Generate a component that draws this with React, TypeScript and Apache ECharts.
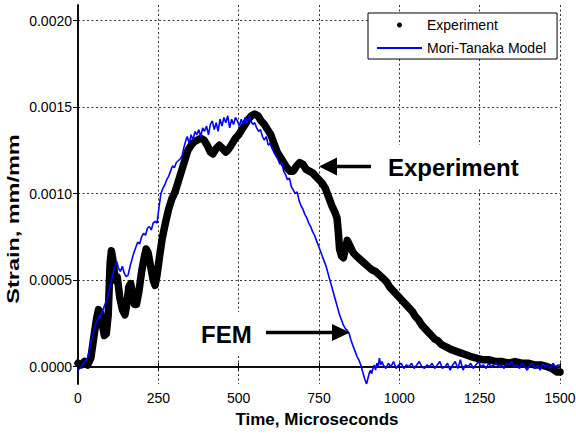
import React, { useEffect, useRef } from "react";
import * as echarts from "echarts";

const xTicks = [0, 250, 500, 750, 1000, 1250, 1500];
const yTicks = [0, 0.0005, 0.001, 0.0015, 0.002];

const expTime = [
  0, 10, 20, 30, 40, 50, 58, 64, 70, 76, 82, 88, 94, 100, 104, 110, 116, 122, 130, 138,
  146, 152, 158, 164, 170, 176, 182, 190, 198, 206, 212, 218, 226, 234, 240, 246, 254, 262, 272, 282,
  292, 302, 312, 322, 332, 342, 352, 362, 372, 382, 392, 402, 412, 420, 430, 440, 450, 460, 470, 480,
  490, 500, 510, 520, 530, 540, 550, 560, 570, 580, 590, 600, 610, 620, 630, 640, 650, 660, 670, 680,
  690, 700, 710, 720, 730, 740, 750, 760, 770, 780, 790, 800, 806, 810, 814, 820, 826, 832, 838, 846,
  856, 866, 878, 890, 902, 914, 926, 938, 950, 960, 970, 980, 990, 1000, 1010, 1020, 1030, 1040, 1050, 1060,
  1070, 1080, 1090, 1100, 1110, 1120, 1130, 1140, 1150, 1160, 1175, 1190, 1205, 1220, 1240, 1260, 1280, 1300, 1320, 1340,
  1360, 1380, 1400, 1420, 1440, 1460, 1475, 1490, 1500,
];
const expStrain = [
  0.00002, 0.00001, 0.00003, 0.00001, 0.00005, 0.00018, 0.00028, 0.00033, 0.00031, 0.00024, 0.00018, 0.00019, 0.0003, 0.0006, 0.00067, 0.0006, 0.0005, 0.00052, 0.0004, 0.00033,
  0.0003, 0.00036, 0.00046, 0.00048, 0.00042, 0.00036, 0.00036, 0.00044, 0.00055, 0.00063, 0.00068, 0.00066, 0.00058, 0.0005, 0.00047, 0.00053, 0.00064, 0.00074, 0.00083, 0.00091,
  0.00097, 0.00101, 0.00107, 0.00113, 0.00119, 0.00125, 0.00128, 0.0013, 0.00131, 0.00132, 0.00131, 0.00128, 0.00124, 0.00123, 0.00126, 0.00128, 0.00126, 0.00124, 0.00126, 0.00129,
  0.00132, 0.00134, 0.00137, 0.0014, 0.00143, 0.00145, 0.00146, 0.00145, 0.00142, 0.0014, 0.00137, 0.00134, 0.00129, 0.00124, 0.00121, 0.00118, 0.00115, 0.00113, 0.00113, 0.00116,
  0.00118, 0.00117, 0.00114, 0.00113, 0.00112, 0.0011, 0.00108, 0.00106, 0.00103, 0.00098, 0.00093, 0.00089, 0.00086, 0.00078, 0.00068, 0.00064, 0.00063, 0.00068, 0.00073, 0.0007,
  0.00066, 0.00064, 0.00062, 0.0006, 0.00058, 0.00056, 0.00055, 0.00053, 0.00051, 0.00049, 0.00046, 0.00044, 0.00042, 0.0004, 0.00038, 0.00036, 0.00034, 0.00032, 0.00029, 0.00027,
  0.00024, 0.00022, 0.0002, 0.00018, 0.00016, 0.00015, 0.00013, 0.00012, 0.00011, 0.0001, 0.00009, 0.00008, 0.00007, 0.00006, 0.00005, 0.00004, 0.00004, 0.00003, 0.00003, 0.00002,
  0.00003, 0.00002, 0.00002, 0.00001, 0.00001, 0.0, -0.00001, -0.00003, -0.00003,
];

const mtTime = [
  0, 10, 20, 28, 34, 40, 48, 56, 62, 66, 70, 74, 80, 86, 92, 98, 104, 110, 116, 120,
  126, 132, 138, 144, 150, 156, 162, 168, 174, 180, 186, 192, 198, 204, 210, 216, 222, 228, 234, 240,
  246, 252, 258, 264, 270, 276, 282, 288, 294, 300, 306, 312, 318, 324, 330, 336, 340, 346, 352, 358,
  364, 370, 376, 382, 388, 394, 400, 406, 412, 418, 424, 430, 436, 442, 448, 454, 460, 466, 472, 478,
  484, 490, 496, 502, 508, 514, 520, 526, 532, 538, 544, 550, 556, 562, 568, 574, 580, 586, 592, 598,
  604, 610, 616, 622, 628, 634, 640, 646, 652, 658, 664, 670, 676, 682, 688, 694, 700, 706, 712, 718,
  724, 730, 736, 742, 748, 754, 760, 766, 772, 778, 784, 790, 796, 802, 808, 814, 820, 826, 832, 838,
  844, 850, 856, 862, 868, 874, 880, 886, 892, 898, 902, 906, 910, 914, 918, 922, 926, 930, 934, 938,
  942, 946, 950, 958, 966, 974, 982, 990, 998, 1006, 1014, 1022, 1030, 1038, 1046, 1054, 1062, 1070, 1078, 1086,
  1094, 1102, 1110, 1118, 1126, 1134, 1142, 1150, 1158, 1166, 1174, 1182, 1190, 1198, 1206, 1214, 1222, 1230, 1238, 1246,
  1254, 1262, 1270, 1278, 1286, 1294, 1302, 1310, 1318, 1326, 1334, 1342, 1350, 1358, 1366, 1374, 1382, 1390, 1398, 1406,
  1414, 1422, 1430, 1438, 1446, 1454, 1462, 1470, 1478, 1486, 1494, 1500,
];
const mtStrain = [
  -0.00002, 0.0, 0.00003, 0.00004, 0.00008, 0.00014, 0.0002, 0.00025, 0.00028, 0.0003, 0.00028, 0.00031, 0.00034, 0.00037, 0.0004, 0.00045, 0.0005, 0.00055, 0.00058, 0.00061,
  0.00057, 0.00055, 0.00058, 0.00054, 0.00052, 0.00053, 0.00058, 0.00062, 0.00066, 0.00069, 0.00072, 0.00071, 0.00075, 0.00077, 0.00076, 0.0008, 0.00081, 0.00079, 0.00083, 0.00084,
  0.00083, 0.00092, 0.001, 0.00103, 0.00105, 0.00108, 0.0011, 0.00113, 0.00116, 0.00115, 0.00118, 0.00119, 0.0012, 0.00122, 0.00127, 0.00131, 0.00133, 0.00129, 0.00134, 0.00131,
  0.00136, 0.00134, 0.00137, 0.00133, 0.00138, 0.00136, 0.00139, 0.00134, 0.0014, 0.00142, 0.00137, 0.00141, 0.00136, 0.00143, 0.00139, 0.00144, 0.00141, 0.00145, 0.00138, 0.00143,
  0.0014, 0.00144, 0.00142, 0.00139, 0.00143, 0.0014, 0.00144, 0.00141, 0.00145, 0.00142, 0.0014, 0.00141, 0.00138, 0.00136, 0.00137, 0.00133, 0.00131, 0.00133, 0.00128, 0.00129,
  0.00126, 0.00124, 0.00122, 0.0012, 0.00117, 0.00118, 0.00113, 0.00111, 0.00108, 0.00109, 0.00104, 0.00102, 0.001, 0.00101, 0.00096, 0.00093, 0.00091, 0.00088, 0.00086, 0.00083,
  0.00081, 0.00078, 0.00076, 0.00073, 0.0007, 0.00067, 0.00064, 0.00061, 0.00058, 0.00054, 0.0005, 0.00046, 0.00042, 0.00038, 0.00034, 0.0003, 0.00027, 0.00024, 0.00022, 0.00021,
  0.00019, 0.00015, 0.00012, 0.00009, 0.00006, 0.00004, 0.00001, -0.00003, -0.00007, -0.0001, -0.00007, -0.00004, -0.00002, -0.00004, -0.00001, 0.00001, -0.00002, 0.00002, 0.0, 0.00005,
  0.00001, 0.00003, 0.00001, -0.00001, 0.00002, 0.0, 0.00003, -0.00001, 0.00001, 0.00002, -0.00001, 0.00001, 0.0, 0.00002, -0.00001, 0.00001, 0.00003, 0.0, -0.00001, 0.00001,
  0.0, 0.00002, -0.00001, 0.00001, 0.00003, -0.00001, 0.0, 0.00002, -0.00002, 0.00001, 0.00003, -0.00001, 0.00004, -0.00002, 0.00001, 0.0, 0.00002, -0.00001, 0.00001, 0.00003,
  0.0, 0.00001, -0.00001, 0.00002, 0.0, 0.00001, 0.00002, 0.0, 0.00001, -0.00001, 0.00002, 0.00001, 0.00003, 0.0, 0.00001, -0.00001, 0.00002, 0.0, -0.00002, 0.00001,
  0.00002, -0.00001, 0.00001, -0.00002, 0.00002, 0.0, 0.00001, -0.00001, 0.00002, 0.0, 0.00001, 0.00001,
];

const FONT = "'Liberation Sans', Arial, Helvetica, sans-serif";

export default function App() {
  const ref = useRef<HTMLDivElement>(null);

  useEffect(() => {
    document.body.style.margin = "0";
    if (!ref.current) return;
    const chart = echarts.init(ref.current, undefined, { renderer: "svg" });

    const expData = expTime.map((t, i) => [t, expStrain[i]]);
    const mtData = mtTime.map((t, i) => [t, mtStrain[i]]);

    const axisLine = { show: true, lineStyle: { color: "#000", width: 1.5 } };
    const gridLine = { show: true, lineStyle: { color: "#333", width: 1, type: [2, 2.5] } };

    chart.setOption({
      animation: false,
      backgroundColor: "#fff",
      textStyle: { fontFamily: FONT },
      grid: { left: 78, right: 16, top: 5, bottom: 50, outerBoundsMode: "none", containLabel: false },
      legend: {
        orient: "vertical",
        left: 368,
        top: 13,
        backgroundColor: "#fff",
        borderColor: "#000",
        borderWidth: 1,
        borderRadius: 0,
        padding: [5, 11, 4, 9],
        itemGap: 9,
        itemWidth: 45,
        itemHeight: 5,
        selectedMode: false,
        textStyle: { fontSize: 14, fontFamily: FONT, color: "#000" },
        data: [
          { name: "Experiment", icon: "circle" },
          { name: "Mori-Tanaka Model", icon: "path://M0 0H45V2H0Z" },
        ],
      },
      xAxis: [
        {
          type: "value",
          min: 0,
          max: 1500,
          interval: 250,
          axisLine,
          axisTick: { show: true, inside: true, length: 4, lineStyle: { color: "#000" } },
          axisLabel: {
            color: "#000",
            fontSize: 14,
            fontFamily: FONT,
            margin: 7,
            customValues: xTicks,
            formatter: (v: number) => String(v),
          },
          splitLine: gridLine,
        },
        {
          type: "value",
          position: "top",
          min: 0,
          max: 1500,
          interval: 250,
          axisLine,
          axisTick: { show: true, inside: true, length: 4, lineStyle: { color: "#000" } },
          axisLabel: { show: false },
          splitLine: { show: false },
        },
      ],
      yAxis: [
        {
          type: "value",
          min: -0.0001,
          max: 0.00209,
          axisLine,
          axisTick: { show: true, inside: false, length: 5, customValues: yTicks, lineStyle: { color: "#000" } },
          axisLabel: {
            color: "#000",
            fontSize: 14,
            fontFamily: FONT,
            margin: 6,
            customValues: yTicks,
            formatter: (v: number) => v.toFixed(4),
          },
          splitLine: gridLine,
        },
        {
          type: "value",
          position: "right",
          min: -0.0001,
          max: 0.00209,
          axisLine,
          axisTick: { show: true, inside: true, length: 4, customValues: yTicks, lineStyle: { color: "#000" } },
          axisLabel: { show: false, customValues: yTicks },
          splitLine: { show: false },
        },
      ],
      series: [
        {
          name: "Experiment",
          type: "line",
          xAxisIndex: 0,
          yAxisIndex: 0,
          data: expData,
          showSymbol: false,
          symbol: "circle",
          silent: true,
          itemStyle: { color: "#000" },
          lineStyle: { color: "#000", width: 7.5, cap: "round", join: "round" },
          emphasis: { disabled: true },
          z: 2,
        },
        {
          name: "Mori-Tanaka Model",
          type: "line",
          xAxisIndex: 0,
          yAxisIndex: 0,
          data: mtData,
          showSymbol: false,
          symbol: "none",
          silent: true,
          itemStyle: { color: "#0000ff" },
          lineStyle: { color: "#0000ff", width: 1.6 },
          emphasis: { disabled: true },
          z: 3,
        },
      ],
      graphic: [
        {
          type: "text",
          x: 12.5,
          y: 219,
          rotation: Math.PI / 2,
          scaleX: 1.38,
          style: {
            text: "Strain, mm/mm",
            font: `bold 17px ${FONT}`,
            fill: "#000",
            align: "center",
            verticalAlign: "middle",
          },
        },
        {
          type: "text",
          x: 317,
          y: 419,
          style: {
            text: "Time, Microseconds",
            font: `bold 17px ${FONT}`,
            fill: "#000",
            align: "center",
            verticalAlign: "middle",
          },
        },
        {
          type: "text",
          x: 384,
          y: 167,
          z: 10,
          style: {
            text: "Experiment",
            font: `bold 24px ${FONT}`,
            fill: "#000",
            align: "left",
            verticalAlign: "middle",
            backgroundColor: "#fff",
            padding: [10, 4],
          },
        },
        {
          type: "line",
          z: 10,
          shape: { x1: 335, y1: 166.5, x2: 371, y2: 166.5 },
          style: { stroke: "#000", lineWidth: 3.5 },
        },
        {
          type: "polygon",
          z: 10,
          shape: { points: [[319, 166.5], [337, 157.5], [337, 175.5]] },
          style: { fill: "#000" },
        },
        {
          type: "text",
          x: 197,
          y: 334,
          z: 10,
          style: {
            text: "FEM",
            font: `bold 24px ${FONT}`,
            fill: "#000",
            align: "left",
            verticalAlign: "middle",
            backgroundColor: "#fff",
            padding: [10, 4],
          },
        },
        {
          type: "line",
          z: 10,
          shape: { x1: 266, y1: 332.5, x2: 334, y2: 332.5 },
          style: { stroke: "#000", lineWidth: 3.5 },
        },
        {
          type: "polygon",
          z: 10,
          shape: { points: [[350, 332.5], [332, 324], [332, 341]] },
          style: { fill: "#000" },
        },
      ],
    });

    return () => {
      chart.dispose();
    };
  }, []);

  return <div ref={ref} style={{ width: 576, height: 434 }} />;
}
